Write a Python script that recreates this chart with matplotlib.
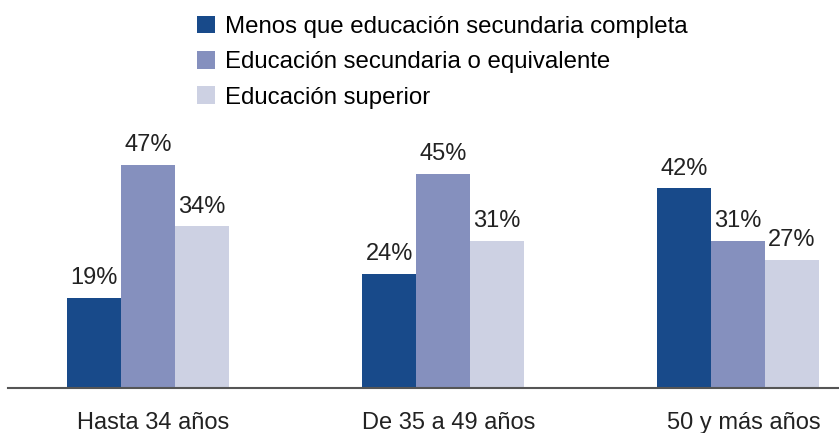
import numpy as np
import matplotlib.pyplot as plt
from matplotlib.patches import Patch

plt.rcParams['font.family'] = ['Liberation Sans', 'DejaVu Sans']

grupos = ["Hasta 34 años", "De 35 a 49 años", "50 y más años"]
series = ["Menos que educación secundaria completa",
          "Educación secundaria o equivalente",
          "Educación superior"]
menos_sec = [19, 24, 42]
secundaria = [47, 45, 31]
superior = [34, 31, 27]
colores = ["#184a8a", "#8590be", "#cdd1e3"]

fig = plt.figure(figsize=(8.39, 4.33), dpi=100)
ax = fig.add_axes([8 / 839, 45 / 433, 831 / 839, 388 / 433])

x = np.arange(len(grupos))
w = 0.183
for i, (vals, col) in enumerate(zip([menos_sec, secundaria, superior], colores)):
    pos = x + (i - 1) * w
    ax.bar(pos, vals, width=w, color=col, edgecolor='none')
    for p, v in zip(pos, vals):
        ax.text(p, v + 1.8, f"{v}%", ha='center', va='bottom', fontsize=17, color='#222222')

ax.set_xlim(-0.4746, 2.342)
ax.set_ylim(0, 81.6)
ax.set_xticks(x + 0.018)
ax.set_xticklabels(grupos, fontsize=17, color='#222222')
ax.tick_params(axis='x', length=0, pad=17)
ax.set_yticks([])
for s in ['top', 'right', 'left']:
    ax.spines[s].set_visible(False)
ax.spines['bottom'].set_color('#555555')
ax.spines['bottom'].set_linewidth(1.5)

handles = [Patch(facecolor=c, edgecolor='none') for c in colores]
fig.legend(handles, series, loc='upper left', bbox_to_anchor=(187 / 839, 1 - 6 / 433),
           frameon=False, fontsize=17.3, handlelength=0.75, handleheight=0.75,
           handletextpad=0.45, labelspacing=0.55, borderaxespad=0)

fig.savefig("out.png", dpi=100)
